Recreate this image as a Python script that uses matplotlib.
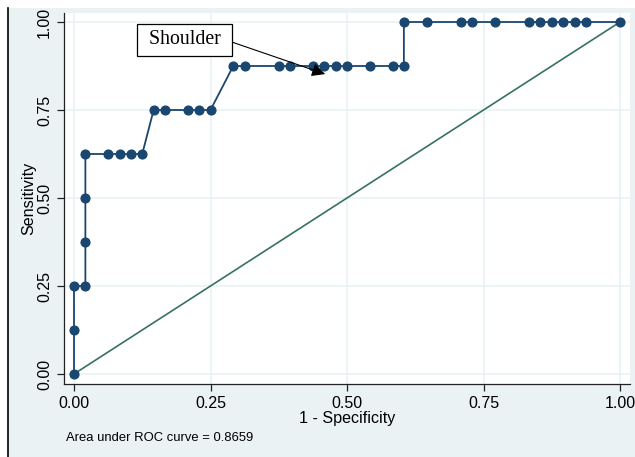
import matplotlib
matplotlib.use("Agg")
import matplotlib.pyplot as plt
from matplotlib.patches import Rectangle
from matplotlib.lines import Line2D
import numpy as np

# ROC points: 1 - specificity in 48ths, sensitivity in 8ths
fpr_48 = [0, 0, 0, 1, 1, 1, 1, 3, 4, 5, 6, 7, 8, 10, 11, 12, 14, 15, 18, 19,
          21, 22, 23, 24, 26, 28, 29, 29, 31, 34, 35, 37, 40, 41, 42, 43, 44, 45, 48]
tpr_8 = [0, 1, 2, 2, 3, 4, 5, 5, 5, 5, 5, 6, 6, 6, 6, 6, 7, 7, 7, 7,
         7, 7, 7, 7, 7, 7, 7, 8, 8, 8, 8, 8, 8, 8, 8, 8, 8, 8, 8]
ticks = [0.0, 0.25, 0.5, 0.75, 1.0]
tick_labels = ["0.00", "0.25", "0.50", "0.75", "1.00"]
auc_text = "Area under ROC curve = 0.8659"
annot_text = "Shoulder"

fpr = np.array(fpr_48) / 48.0
tpr = np.array(tpr_8) / 8.0

W, H = 635, 457
fig = plt.figure(figsize=(W / 100, H / 100), dpi=100)
fig.patch.set_facecolor("white")
bg = "#eaf2f3"
fig.patches.append(Rectangle((8 / W, 0), 1 - 8 / W, (H - 8) / H,
                             transform=fig.transFigure, facecolor=bg,
                             edgecolor="none", zorder=-10))
fig.lines.append(Line2D([7.5 / W, 7.5 / W], [0, (H - 8) / H],
                        transform=fig.transFigure, color="black", lw=1.2))

ax = fig.add_axes([64 / W, (H - 384) / H, (630 - 64) / W, (384 - 13) / H])
ax.set_facecolor("white")
ax.set_xlim(-10 / 546, 1 + 10 / 546)
ax.set_ylim(-10 / 352, 1 + 9 / 352)

for t in ticks:
    ax.axvline(t, color=bg, lw=1.2, zorder=0)
    ax.axhline(t, color=bg, lw=1.2, zorder=0)

ax.plot([0, 1], [0, 1], color="#36725f", lw=1.2, zorder=2)
ax.plot(fpr, tpr, color="#1a476f", lw=1.3, marker="o", markersize=6.3,
        markerfacecolor="#1a476f", markeredgecolor="#1a476f", zorder=3)

for s in ["top", "right"]:
    ax.spines[s].set_visible(False)
for s in ["left", "bottom"]:
    ax.spines[s].set_color("#222222")
    ax.spines[s].set_linewidth(0.9)

ax.set_xticks(ticks)
ax.set_xticklabels(tick_labels)
ax.set_yticks(ticks)
ax.set_yticklabels(tick_labels, rotation=90, va="center")
ax.tick_params(axis="both", direction="out", length=5, width=0.9,
               color="#222222", labelsize=11.5)
for lab in ax.get_xticklabels() + ax.get_yticklabels():
    lab.set_fontfamily("Liberation Sans")

ax.set_xlabel("1 - Specificity", fontsize=11.6, family="Liberation Sans", labelpad=0)
ax.set_ylabel("Sensitivity", fontsize=11.6, family="Liberation Sans", labelpad=1)

fig.text(66 / W, 1 - 438 / H, auc_text, fontsize=9.4, family="Liberation Sans",
         ha="left", va="center")

ax.annotate(" " + annot_text + " ", xy=(0.46, 0.852), xytext=(0.203, 0.949),
            textcoords="data", fontsize=14.3, family="Liberation Serif",
            ha="center", va="center",
            bbox=dict(boxstyle="square,pad=0.33", facecolor="white",
                      edgecolor="black", lw=0.9),
            arrowprops=dict(arrowstyle="-|>", color="black", lw=0.8,
                            mutation_scale=20, shrinkA=0, shrinkB=0,
                            relpos=(1.0, 0.5)),
            zorder=5)

fig.savefig("out.png", dpi=100, facecolor=fig.get_facecolor())
